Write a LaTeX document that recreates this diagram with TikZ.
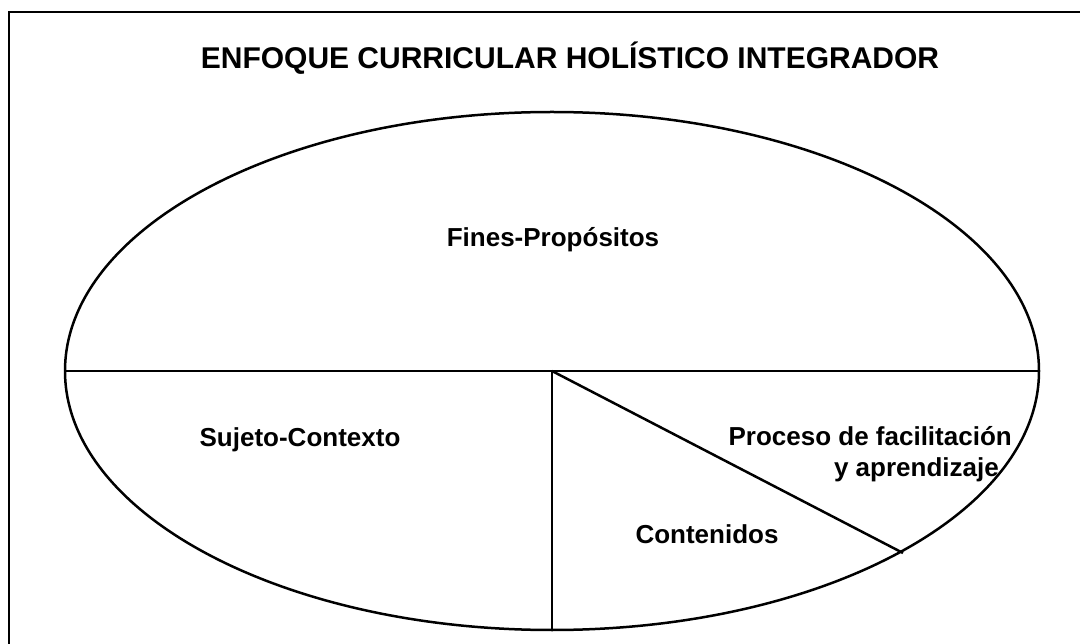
\documentclass[tikz,border=0pt]{standalone}
\usepackage{fontspec}
\setmainfont{Liberation Sans}
\usetikzlibrary{shapes.geometric,calc}
\tikzset{
  lbl/.style={font=\bfseries\fontsize{26}{30}\selectfont, inner sep=0pt, anchor=base},
  ttl/.style={font=\bfseries\fontsize{30}{34}\selectfont, inner sep=0pt, anchor=base},
  ln/.style={line width=2.5pt, black},
}
\begin{document}
\begin{tikzpicture}[x=1pt,y=-1pt]
\useasboundingbox (0,0) rectangle (1080,644);
\begin{scope}
\clip (0,0) rectangle (1080,644);
\draw[line width=2.4pt] (9,660) -- (9,12) -- (1100,12);
\end{scope}
\node[ttl] (title) at (570,69) {ENFOQUE CURRICULAR HOLÍSTICO INTEGRADOR};
\node[ellipse, draw, ln, minimum width=974pt, minimum height=518pt, inner sep=0pt] (e) at (552,371) {};
\draw[ln] (e.west) -- (e.east);
\coordinate (c) at (e.center);
\coordinate (d) at ($(e.center)+(351,182)$);
\draw[ln] (c) -- (e.south);
\draw[ln] (c) -- (d);
\node[lbl] (fines) at (553,247) {Fines-Propósitos};
\node[lbl] (sujeto) at (300,447) {Sujeto-Contexto};
\node[lbl,anchor=base east] (proc1) at (1012,446) {Proceso de facilitación};
\node[lbl,anchor=base east] (proc2) at (999,476) {y aprendizaje};
\node[lbl] (cont) at (707,543) {Contenidos};
\end{tikzpicture}
\end{document}
